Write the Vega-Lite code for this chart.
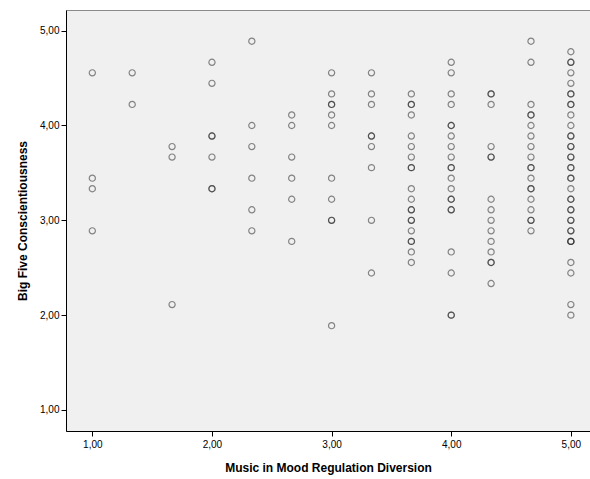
{
  "$schema": "https://vega.github.io/schema/vega-lite/v6.json",
  "width": 524,
  "height": 421,
  "autosize": {"type": "none"},
  "padding": {"left": 66, "top": 10, "right": 0, "bottom": 48},
  "background": "#ffffff",
  "config": {
    "view": {"fill": "#f0f0f0", "stroke": "#8a8a8a", "strokeWidth": 1},
    "font": "Liberation Sans"
  },
  "data": {
    "values": [
      {"x": 1, "y": 4.5556}, {"x": 1, "y": 3.4444}, {"x": 1, "y": 3.3333}, {"x": 1, "y": 2.8889},
      {"x": 1.3333, "y": 4.5556}, {"x": 1.3333, "y": 4.2222},
      {"x": 1.6667, "y": 3.7778}, {"x": 1.6667, "y": 3.6667}, {"x": 1.6667, "y": 2.1111},
      {"x": 2, "y": 4.6667}, {"x": 2, "y": 4.4444}, {"x": 2, "y": 3.8889}, {"x": 2, "y": 3.8889}, {"x": 2, "y": 3.6667}, {"x": 2, "y": 3.3333}, {"x": 2, "y": 3.3333},
      {"x": 2.3333, "y": 4.8889}, {"x": 2.3333, "y": 4.0}, {"x": 2.3333, "y": 3.7778}, {"x": 2.3333, "y": 3.4444}, {"x": 2.3333, "y": 3.1111}, {"x": 2.3333, "y": 2.8889},
      {"x": 2.6667, "y": 4.1111}, {"x": 2.6667, "y": 4.0}, {"x": 2.6667, "y": 3.6667}, {"x": 2.6667, "y": 3.4444}, {"x": 2.6667, "y": 3.2222}, {"x": 2.6667, "y": 2.7778},
      {"x": 3, "y": 4.5556}, {"x": 3, "y": 4.3333}, {"x": 3, "y": 4.2222}, {"x": 3, "y": 4.2222}, {"x": 3, "y": 4.1111}, {"x": 3, "y": 4.0}, {"x": 3, "y": 3.4444}, {"x": 3, "y": 3.2222}, {"x": 3, "y": 3.0}, {"x": 3, "y": 3.0}, {"x": 3, "y": 1.8889},
      {"x": 3.3333, "y": 4.5556}, {"x": 3.3333, "y": 4.3333}, {"x": 3.3333, "y": 4.2222}, {"x": 3.3333, "y": 3.8889}, {"x": 3.3333, "y": 3.8889}, {"x": 3.3333, "y": 3.7778}, {"x": 3.3333, "y": 3.5556}, {"x": 3.3333, "y": 3.0}, {"x": 3.3333, "y": 2.4444},
      {"x": 3.6667, "y": 4.3333}, {"x": 3.6667, "y": 4.2222}, {"x": 3.6667, "y": 4.2222}, {"x": 3.6667, "y": 4.1111}, {"x": 3.6667, "y": 3.8889}, {"x": 3.6667, "y": 3.7778}, {"x": 3.6667, "y": 3.6667}, {"x": 3.6667, "y": 3.5556}, {"x": 3.6667, "y": 3.5556}, {"x": 3.6667, "y": 3.3333}, {"x": 3.6667, "y": 3.2222}, {"x": 3.6667, "y": 3.1111}, {"x": 3.6667, "y": 3.1111}, {"x": 3.6667, "y": 3.0}, {"x": 3.6667, "y": 3.0}, {"x": 3.6667, "y": 2.8889}, {"x": 3.6667, "y": 2.7778}, {"x": 3.6667, "y": 2.7778}, {"x": 3.6667, "y": 2.6667}, {"x": 3.6667, "y": 2.5556},
      {"x": 4, "y": 4.6667}, {"x": 4, "y": 4.5556}, {"x": 4, "y": 4.3333}, {"x": 4, "y": 4.2222}, {"x": 4, "y": 4.0}, {"x": 4, "y": 4.0}, {"x": 4, "y": 3.8889}, {"x": 4, "y": 3.7778}, {"x": 4, "y": 3.6667}, {"x": 4, "y": 3.5556}, {"x": 4, "y": 3.5556}, {"x": 4, "y": 3.4444}, {"x": 4, "y": 3.3333}, {"x": 4, "y": 3.2222}, {"x": 4, "y": 3.2222}, {"x": 4, "y": 3.1111}, {"x": 4, "y": 3.1111}, {"x": 4, "y": 2.6667}, {"x": 4, "y": 2.4444}, {"x": 4, "y": 2.0}, {"x": 4, "y": 2.0},
      {"x": 4.3333, "y": 4.3333}, {"x": 4.3333, "y": 4.3333}, {"x": 4.3333, "y": 4.2222}, {"x": 4.3333, "y": 3.7778}, {"x": 4.3333, "y": 3.6667}, {"x": 4.3333, "y": 3.6667}, {"x": 4.3333, "y": 3.2222}, {"x": 4.3333, "y": 3.1111}, {"x": 4.3333, "y": 3.0}, {"x": 4.3333, "y": 2.8889}, {"x": 4.3333, "y": 2.7778}, {"x": 4.3333, "y": 2.6667}, {"x": 4.3333, "y": 2.5556}, {"x": 4.3333, "y": 2.5556}, {"x": 4.3333, "y": 2.3333},
      {"x": 4.6667, "y": 4.8889}, {"x": 4.6667, "y": 4.6667}, {"x": 4.6667, "y": 4.2222}, {"x": 4.6667, "y": 4.1111}, {"x": 4.6667, "y": 4.1111}, {"x": 4.6667, "y": 4.0}, {"x": 4.6667, "y": 3.8889}, {"x": 4.6667, "y": 3.7778}, {"x": 4.6667, "y": 3.6667}, {"x": 4.6667, "y": 3.5556}, {"x": 4.6667, "y": 3.5556}, {"x": 4.6667, "y": 3.4444}, {"x": 4.6667, "y": 3.3333}, {"x": 4.6667, "y": 3.3333}, {"x": 4.6667, "y": 3.2222}, {"x": 4.6667, "y": 3.1111}, {"x": 4.6667, "y": 3.0}, {"x": 4.6667, "y": 3.0}, {"x": 4.6667, "y": 2.8889},
      {"x": 5, "y": 4.7778}, {"x": 5, "y": 4.6667}, {"x": 5, "y": 4.6667}, {"x": 5, "y": 4.5556}, {"x": 5, "y": 4.4444}, {"x": 5, "y": 4.3333}, {"x": 5, "y": 4.3333}, {"x": 5, "y": 4.2222}, {"x": 5, "y": 4.2222}, {"x": 5, "y": 4.1111}, {"x": 5, "y": 4.0}, {"x": 5, "y": 3.8889}, {"x": 5, "y": 3.8889}, {"x": 5, "y": 3.7778}, {"x": 5, "y": 3.7778}, {"x": 5, "y": 3.6667}, {"x": 5, "y": 3.6667}, {"x": 5, "y": 3.5556}, {"x": 5, "y": 3.5556}, {"x": 5, "y": 3.4444}, {"x": 5, "y": 3.4444}, {"x": 5, "y": 3.3333}, {"x": 5, "y": 3.2222}, {"x": 5, "y": 3.2222}, {"x": 5, "y": 3.1111}, {"x": 5, "y": 3.1111}, {"x": 5, "y": 3.0}, {"x": 5, "y": 3.0}, {"x": 5, "y": 2.8889}, {"x": 5, "y": 2.8889}, {"x": 5, "y": 2.7778}, {"x": 5, "y": 2.7778}, {"x": 5, "y": 2.7778}, {"x": 5, "y": 2.5556}, {"x": 5, "y": 2.4444}, {"x": 5, "y": 2.1111}, {"x": 5, "y": 2.0}
    ]
  },
  "mark": {"type": "point", "shape": "circle", "filled": false, "size": 38, "stroke": "#222222", "strokeOpacity": 0.75, "strokeWidth": 1.2},
  "encoding": {
    "x": {
      "field": "x", "type": "quantitative",
      "scale": {"domain": [0.78, 5.16], "nice": false, "zero": false},
      "axis": {
        "title": "Music in Mood Regulation Diversion",
        "values": [1, 2, 3, 4, 5],
        "labelExpr": "replace(format(datum.value, '.2f'), '.', ',')",
        "grid": false,
        "domainColor": "#000000", "domainWidth": 1,
        "tickColor": "#000000", "tickSize": 5, "tickWidth": 1,
        "labelFont": "Liberation Sans", "labelFontSize": 10, "labelColor": "#000000", "labelPadding": 3,
        "titleFont": "Liberation Sans", "titleFontSize": 12, "titleFontWeight": "bold", "titleColor": "#000000", "titlePadding": 13
      }
    },
    "y": {
      "field": "y", "type": "quantitative",
      "scale": {"domain": [0.778, 5.218], "nice": false, "zero": false},
      "axis": {
        "title": "Big Five Conscientiousness",
        "values": [1, 2, 3, 4, 5],
        "labelExpr": "replace(format(datum.value, '.2f'), '.', ',')",
        "grid": false,
        "domainColor": "#000000", "domainWidth": 1,
        "tickColor": "#000000", "tickSize": 5, "tickWidth": 1,
        "labelFont": "Liberation Sans", "labelFontSize": 10, "labelColor": "#000000", "labelPadding": 2,
        "titleFont": "Liberation Sans", "titleFontSize": 12, "titleFontWeight": "bold", "titleColor": "#000000", "titlePadding": 10
      }
    }
  }
}
